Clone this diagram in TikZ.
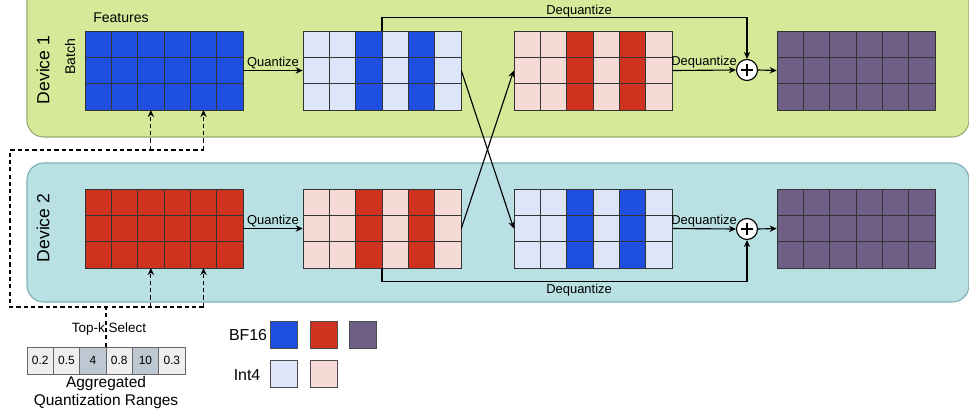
\documentclass[tikz,border=0pt]{standalone}
\usepackage{fontspec}
\setmainfont{Liberation Sans}
\usetikzlibrary{arrows.meta}

\definecolor{bfblue}{RGB}{31,79,224}
\definecolor{bfred}{RGB}{208,50,32}
\definecolor{bfpurple}{RGB}{111,95,135}
\definecolor{intblue}{RGB}{220,230,248}
\definecolor{intred}{RGB}{245,218,214}
\definecolor{devgreen}{RGB}{213,233,153}
\definecolor{greenline}{RGB}{150,172,118}
\definecolor{devteal}{RGB}{185,224,227}
\definecolor{tealline}{RGB}{128,176,182}
\definecolor{rangegray}{RGB}{238,238,238}
\definecolor{rangedark}{RGB}{190,200,211}

\tikzset{
	cell/.style={draw=black!80, line width=0.6pt},
	flow/.style={-{Stealth[length=5pt,width=4.5pt]}, line width=0.8pt},
	topk/.style={dash pattern=on 3pt off 2.2pt, line width=0.85pt},
	summer/.style={circle, draw, fill=white, line width=0.8pt, minimum size=0.525cm, inner sep=0pt},
	swatch/.style={draw=black!70, line width=0.5pt, minimum size=0.675cm, inner sep=0pt},
	rangecell/.style={draw=black!60, line width=0.5pt, minimum width=0.658cm, minimum height=0.675cm, inner sep=0pt, font=\fontsize{8.5}{10}\selectfont},
}

% name, left x, top y, base colour, colour of columns 3 and 5
\newcommand{\tensorgrid}[5]{%
	\node[inner sep=0pt, minimum width=3.95cm, minimum height=1.975cm] (#1) at (#2+79,#3+39.5) {};
	\fill[#4] (#2,#3) rectangle ++(158,79);
	\fill[#5] (#2+52.67,#3) rectangle ++(26.33,79);
	\fill[#5] (#2+105.33,#3) rectangle ++(26.33,79);
	\foreach \k in {1,...,5} \draw[cell] (#2+\k*26.333,#3) -- ++(0,79);
	\foreach \k in {1,2} \draw[cell] (#2,#3+\k*26.333) -- ++(158,0);
	\draw[cell] (#2,#3) rectangle ++(158,79);
	\coordinate (#1-c3) at (#2+65.83,#3+79);
	\coordinate (#1-c5) at (#2+118.5,#3+79);
}

\begin{document}
\begin{tikzpicture}[x=0.025cm, y=-0.025cm, font=\fontsize{9.2}{11}\selectfont]
	\useasboundingbox (0,0) rectangle (969,417);
	\clip (0,0) rectangle (969,417);

	% the two devices
	\filldraw[fill=devgreen, draw=greenline, line width=0.8pt, rounded corners=0.42cm] (27,-20) rectangle (969,137);
	\filldraw[fill=devteal, draw=tealline, line width=0.8pt, rounded corners=0.42cm] (27,163) rectangle (969,302);
	\node[rotate=90, font=\fontsize{12.5}{15}\selectfont] (dev1) at (43,70) {Device 1};
	\node[rotate=90, font=\fontsize{12.5}{15}\selectfont] (dev2) at (43,228) {Device 2};
	\node[rotate=90, font=\fontsize{10}{12}\selectfont] (batch) at (70,57) {Batch};
	\node[font=\fontsize{10}{12}\selectfont] (feat) at (121,18) {Features};

	\tensorgrid{in1}{85}{31}{bfblue}{bfblue}
	\tensorgrid{q1}{303}{31}{intblue}{bfblue}
	\tensorgrid{r1}{514}{31}{intred}{bfred}
	\tensorgrid{out1}{777}{31}{bfpurple}{bfpurple}
	\tensorgrid{in2}{85}{189}{bfred}{bfred}
	\tensorgrid{q2}{303}{189}{intred}{bfred}
	\tensorgrid{r2}{514}{189}{intblue}{bfblue}
	\tensorgrid{out2}{777}{189}{bfpurple}{bfpurple}

	\node[summer] (p1) at (747,70) {};
	\node[summer] (p2) at (747,229) {};
	\draw[line width=0.8pt] ([xshift=-4pt]p1.center) -- ([xshift=4pt]p1.center) ([yshift=-4pt]p1.center) -- ([yshift=4pt]p1.center);
	\draw[line width=0.8pt] ([xshift=-4pt]p2.center) -- ([xshift=4pt]p2.center) ([yshift=-4pt]p2.center) -- ([yshift=4pt]p2.center);

	\draw[flow] (in1.east) -- node[above, inner sep=1pt] {Quantize} (q1.west);
	\draw[flow] (in2.east) -- node[above, inner sep=1pt] {Quantize} (q2.west);
	\draw[flow] (q1.north) -- ++(0,-13.5) -| node[above=-1pt, inner sep=0.5pt, pos=0.27] {Dequantize} (p1.north);
	\draw[flow] (q2.south) -- ++(0,13) -| node[below, inner sep=1.5pt, pos=0.27] {Dequantize} (p2.south);
	\draw[flow] (q1.east) -- (r2.west);
	\draw[flow] (q2.east) -- (r1.west);
	\draw[flow] (r1.east) -- node[above, inner sep=1pt] {Dequantize} (p1.west);
	\draw[flow] (r2.east) -- node[above, inner sep=1pt] {Dequantize} (p2.west);
	\draw[flow] (p1.east) -- (out1.west);
	\draw[flow] (p2.east) -- (out2.west);

	% aggregated ranges
	\node[inner sep=0pt, minimum width=3.95cm, minimum height=0.675cm] (agg) at (106,360.5) {};
	\foreach \v/\c [count=\i] in {0.2/rangegray,0.5/rangegray,4/rangedark,0.8/rangegray,10/rangedark,0.3/rangegray}
		\node[rangecell, fill=\c] (rc\i) at (27+\i*26.333-13.17,360.5) {\v};
	\node[below, inner sep=1pt, align=center, font=\fontsize{11}{12.8}\selectfont] (aggtext) at (agg.south) {Aggregated\\Quantization Ranges};

	\coordinate (upbus) at (10,150);
	\coordinate (lowbus) at (10,307);
	\draw[topk] (agg.north) -- (agg.north |- lowbus);
	\draw[topk] (in2-c5 |- lowbus) -- (lowbus) -- (upbus) -- (in1-c5 |- upbus);
	\draw[topk, flow] (in1-c3 |- upbus) -- (in1-c3);
	\draw[topk, flow] (in1-c5 |- upbus) -- (in1-c5);
	\draw[topk, flow] (in2-c3 |- lowbus) -- (in2-c3);
	\draw[topk, flow] (in2-c5 |- lowbus) -- (in2-c5);
	\node[font=\fontsize{9.6}{11}\selectfont] (topksel) at (109,329) {Top-k Select};

	% legend
	\node[font=\fontsize{11.3}{13}\selectfont] (bf16) at (248,335) {BF16};
	\node[font=\fontsize{11.3}{13}\selectfont] (int4) at (247,375) {Int4};
	\node[swatch, fill=bfblue] (sw1) at (283.5,334.5) {};
	\node[swatch, fill=bfred] (sw2) at (323.5,334.5) {};
	\node[swatch, fill=bfpurple] (sw3) at (362.5,334.5) {};
	\node[swatch, fill=intblue] (sw4) at (283.5,374) {};
	\node[swatch, fill=intred] (sw5) at (323.5,374) {};
\end{tikzpicture}
\end{document}
